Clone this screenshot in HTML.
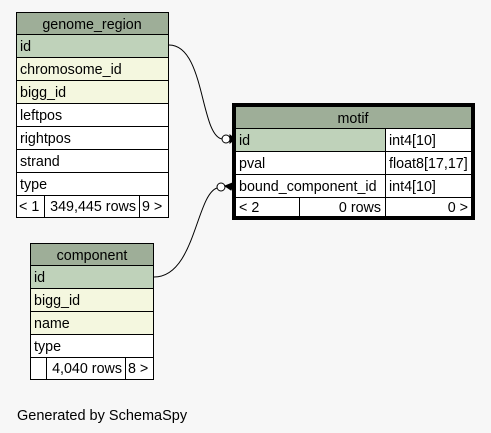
<!DOCTYPE html>
<html><head><style>
html,body{margin:0;padding:0;background:#f7f7f7;}
svg{display:block;font-family:"Liberation Sans",sans-serif;font-size:14.3px;}
</style></head><body>
<svg width="491" height="433" viewBox="0 0 491 433" xmlns="http://www.w3.org/2000/svg">
<rect width="491" height="433" fill="#f7f7f7"/>
<g stroke="#000" stroke-width="1">
<rect x="16.5" y="12.5" width="152" height="22" fill="#9eae98"/>
<rect x="16.5" y="34.5" width="152" height="23" fill="#bfd2ba"/>
<rect x="16.5" y="57.5" width="152" height="23" fill="#f4f7df"/>
<rect x="16.5" y="80.5" width="152" height="23" fill="#f4f7df"/>
<rect x="16.5" y="103.5" width="152" height="23" fill="#fff"/>
<rect x="16.5" y="126.5" width="152" height="23" fill="#fff"/>
<rect x="16.5" y="149.5" width="152" height="23" fill="#fff"/>
<rect x="16.5" y="172.5" width="152" height="23" fill="#fff"/>
<rect x="16.5" y="195.5" width="152" height="22" fill="#fff"/>
<line x1="44.5" y1="195.5" x2="44.5" y2="217.5"/>
<line x1="139.5" y1="195.5" x2="139.5" y2="217.5"/>
<rect x="233.5" y="104.5" width="240" height="114" fill="#fff" stroke-width="3"/>
<rect x="235.5" y="106.5" width="236" height="22" fill="#9eae98"/>
<rect x="235.5" y="128.5" width="150" height="23" fill="#bfd2ba"/>
<rect x="385.5" y="128.5" width="86" height="23" fill="#fff"/>
<rect x="235.5" y="151.5" width="150" height="23" fill="#fff"/>
<rect x="385.5" y="151.5" width="86" height="23" fill="#fff"/>
<rect x="235.5" y="174.5" width="150" height="23" fill="#fff"/>
<rect x="385.5" y="174.5" width="86" height="23" fill="#fff"/>
<rect x="235.5" y="197.5" width="236" height="19" fill="#fff"/>
<line x1="299.5" y1="197.5" x2="299.5" y2="216.5"/>
<line x1="385.5" y1="197.5" x2="385.5" y2="216.5"/>
<rect x="30.5" y="243.5" width="123" height="22" fill="#9eae98"/>
<rect x="30.5" y="265.5" width="123" height="23" fill="#bfd2ba"/>
<rect x="30.5" y="288.5" width="123" height="23" fill="#f4f7df"/>
<rect x="30.5" y="311.5" width="123" height="23" fill="#f4f7df"/>
<rect x="30.5" y="334.5" width="123" height="23" fill="#fff"/>
<rect x="30.5" y="357.5" width="123" height="22" fill="#fff"/>
<line x1="46.5" y1="357.5" x2="46.5" y2="379.5"/>
<line x1="125.5" y1="357.5" x2="125.5" y2="379.5"/>
<path d="M169,45 C205,45 200,135 222,139" fill="none"/>
<circle cx="226" cy="139" r="4" fill="#fff"/>
<path d="M230,135 L235,139 L230,143 Z" fill="#000"/>
<path d="M154,277 C195,277 196,195 217,188" fill="none"/>
<circle cx="221" cy="187" r="4" fill="#fff"/>
<path d="M225,186 L235,182 L231,190 Z" fill="#000"/>
</g>
<g fill="#000">
<text x="92" y="29" text-anchor="middle">genome_region</text>
<text x="20" y="51">id</text>
<text x="20" y="74">chromosome_id</text>
<text x="20" y="97">bigg_id</text>
<text x="20" y="120">leftpos</text>
<text x="20" y="143">rightpos</text>
<text x="20" y="166">strand</text>
<text x="20" y="189">type</text>
<text x="19" y="211">&lt; 1</text>
<text x="136" y="211" text-anchor="end">349,445 rows</text>
<text x="142" y="211">9 &gt;</text>
<text x="353" y="123" text-anchor="middle">motif</text>
<text x="239" y="145">id</text>
<text x="389" y="145">int4[10]</text>
<text x="239" y="168">pval</text>
<text x="389" y="168">float8[17,17]</text>
<text x="239" y="191">bound_component_id</text>
<text x="389" y="191">int4[10]</text>
<text x="239" y="212">&lt; 2</text>
<text x="381" y="212" text-anchor="end">0 rows</text>
<text x="468" y="212" text-anchor="end">0 &gt;</text>
<text x="92" y="260" text-anchor="middle">component</text>
<text x="34" y="282">id</text>
<text x="34" y="305">bigg_id</text>
<text x="34" y="328">name</text>
<text x="34" y="351">type</text>
<text x="122" y="373" text-anchor="end">4,040 rows</text>
<text x="128" y="373">8 &gt;</text>
<text x="17" y="420" font-size="14.5">Generated by SchemaSpy</text>
</g>
</svg>
</body></html>
